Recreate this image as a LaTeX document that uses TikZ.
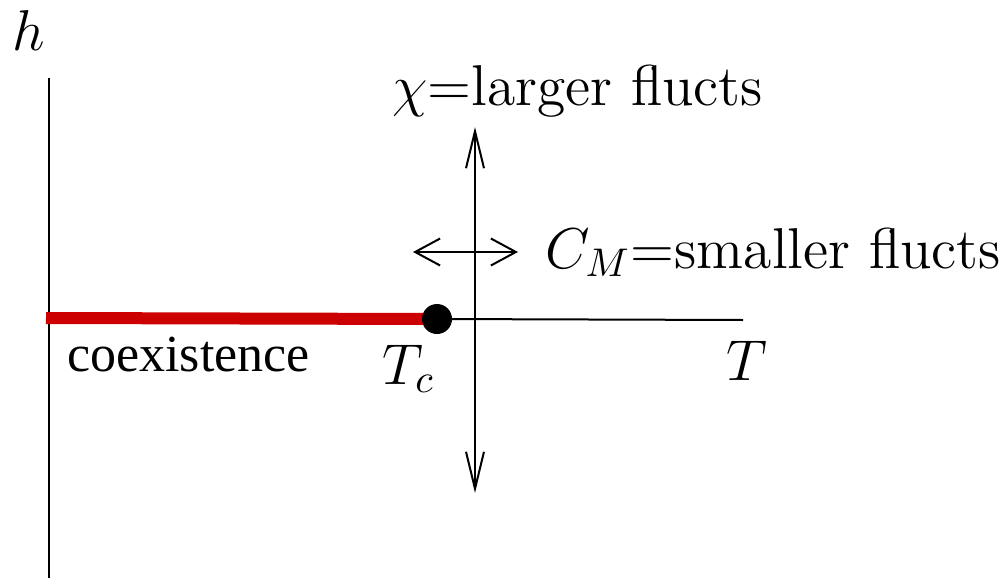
\documentclass[tikz,border=0pt]{standalone}
\usepackage{graphicx}
\usepackage{fontspec}
\newfontfamily\timesfont{Liberation Serif}
\usetikzlibrary{arrows.meta}
\definecolor{linered}{HTML}{CC0000}
\newcommand{\bigtxt}[1]{\scalebox{4.0}{\fontsize{14.4}{17}\selectfont #1}}
\tikzset{
  axis/.style={line width=2pt, black},
  lbl/.style={inner sep=0pt, anchor=base west},
  vbarb/.style={line width=2pt, {Straight Barb[length=37pt,width=18pt]}-{Straight Barb[length=37pt,width=18pt]}},
  hbarb/.style={line width=2pt, {Straight Barb[length=25pt,width=27pt]}-{Straight Barb[length=25pt,width=27pt]}},
}
\begin{document}
\begin{tikzpicture}[x=1pt,y=-1pt]
\useasboundingbox (0,0) rectangle (1007,581);
% h axis
\coordinate (hb) at (49,578);
\coordinate (ht) at (49,78);
\draw[axis] (hb) -- (ht);
\node[lbl] (hlab) at (12,50) {\bigtxt{$h$}};
% T axis
\coordinate (c) at (437,319);
\coordinate (te) at (743,320);
\draw[axis] (c) -- (te);
% coexistence line
\coordinate (cs) at (46,318);
\draw[linered, line width=12pt] (cs) -- (c);
\fill (c) circle (15pt);
\node[circle, inner sep=0pt, minimum size=30pt] (dot) at (c) {};
% arrows
\coordinate (vt) at (475,127);
\coordinate (vb) at (475,493);
\draw[vbarb] (vb) -- (vt);
\coordinate (hl) at (413,252);
\coordinate (hr) at (518,252);
\draw[hbarb] (hl) -- (hr);
% labels
\node[lbl] (chi) at (392,105) {\bigtxt{$\chi$=larger flucts}};
\node[lbl] (cm) at (545,268) {\bigtxt{$C_M$=smaller flucts}};
\node[lbl] (T) at (726,380) {\bigtxt{$T$}};
\node[lbl] (Tc) at (382,384) {\bigtxt{$T_c$}};
\node[inner sep=0pt, anchor=base west, font=\timesfont\fontsize{52}{60}\selectfont] (coex) at (67,371) {coexistence};
\end{tikzpicture}
\end{document}
